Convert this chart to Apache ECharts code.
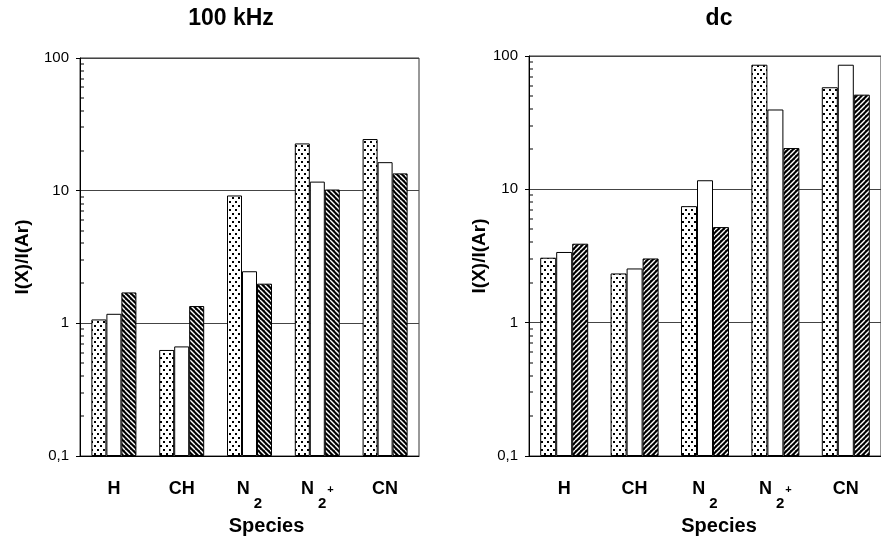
<!DOCTYPE html>
<html>
<head>
<meta charset="utf-8">
<script src="https://cdn.jsdelivr.net/npm/echarts@6/dist/echarts.min.js"></script>
<style>html,body{margin:0;padding:0;background:#fff}#c{width:881px;height:546px}</style>
</head>
<body>
<div id="c"></div>
<script>
// ---- data ----
const categories = ['H', 'CH', 'N2', 'N2+', 'CN'];
const khzDotted  = [1.07, 0.63, 9.2, 22.7, 24.5];
const khzOpen    = [1.18, 0.67, 2.47, 11.7, 16.4];
const khzHatched = [1.71, 1.35, 1.99, 10.2, 13.5];
const dcDotted   = [3.07, 2.34, 7.48, 86, 58.3];
const dcOpen     = [3.39, 2.55, 11.7, 39.7, 86];
const dcHatched  = [3.91, 3.03, 5.21, 20.4, 51.3];
const yMin = 0.1, yMax = 100;
const minorTickValues = [0.2,0.3,0.4,0.5,0.6,0.7,0.8,0.9,2,3,4,5,6,7,8,9,20,30,40,50,60,70,80,90];
const titles = ['100 kHz', 'dc'];

// ---- patterns ----
function dotPattern() {
  const c = document.createElement('canvas'); c.width = 6; c.height = 8;
  const g = c.getContext('2d');
  g.fillStyle = '#fff'; g.fillRect(0, 0, 6, 8);
  g.fillStyle = '#000';
  g.fillRect(1, 1, 2, 2); g.fillRect(4, 5, 2, 2);
  return c;
}
function hatchPattern(back) {
  const P = 5;
  const c = document.createElement('canvas'); c.width = P; c.height = P;
  const g = c.getContext('2d');
  g.fillStyle = '#000'; g.fillRect(0, 0, P, P);
  g.strokeStyle = '#fff'; g.lineWidth = 1.4;
  for (const o of [-P, 0, P]) {
    g.beginPath();
    if (back) { g.moveTo(o, 0); g.lineTo(o + P, P); }
    else { g.moveTo(o, P); g.lineTo(o + P, 0); }
    g.stroke();
  }
  return c;
}
const dotFill = { image: dotPattern(), repeat: 'repeat' };
const hatchBack = { image: hatchPattern(true), repeat: 'repeat' };
const hatchFwd = { image: hatchPattern(false), repeat: 'repeat' };

const FONT = '"Liberation Sans", Arial, sans-serif';

function catLabel(v) {
  if (v === 'N2') return '{a|N}{s|2}';
  if (v === 'N2+') return '{a|N}{s|2}{p|+}';
  return '{a|' + v + '}';
}
const rich = {
  a: { fontSize: 18, fontWeight: 'bold', fontFamily: FONT, color: '#000', verticalAlign: 'top', lineHeight: 20 },
  s: { fontSize: 15, fontWeight: 'bold', fontFamily: FONT, color: '#000', verticalAlign: 'top', lineHeight: 15, padding: [16, 0, 0, 4] },
  p: { fontSize: 11, fontWeight: 'bold', fontFamily: FONT, color: '#000', verticalAlign: 'top', lineHeight: 11, padding: [4, 0, 0, 1] }
};

const grids = [
  { left: 80, top: 58, width: 339, height: 398, show: true, borderColor: '#333', borderWidth: 1 },
  { left: 529, top: 56, width: 360, height: 400, show: true, borderColor: '#333', borderWidth: 1 }
];

function xAxis(i, pad) {
  return {
    type: 'category', gridIndex: i, data: categories,
    axisLine: { lineStyle: { color: '#000', width: 1 } },
    axisTick: { length: 5, lineStyle: { color: '#000' } },
    axisLabel: { margin: 24, interval: 0, formatter: catLabel, rich: rich },
    name: 'Species', nameLocation: 'middle', nameGap: 60,
    nameTextStyle: { fontSize: 20, fontWeight: 'bold', fontFamily: FONT, color: '#000', padding: [0, 0, 0, pad] }
  };
}
function yAxis(i, gap) {
  return {
    type: 'log', logBase: 10, gridIndex: i, min: yMin, max: yMax, startValue: yMin,
    axisLine: { show: true, lineStyle: { color: '#000', width: 1 } },
    axisTick: { show: true, length: 4, lineStyle: { color: '#000' } },
    axisLabel: {
      margin: 11, fontSize: 15, fontFamily: FONT, color: '#000',
      formatter: v => (Math.abs(v - 0.1) < 1e-9 ? '0,1' : String(Math.round(v)))
    },
    splitLine: { show: true, lineStyle: { color: '#444', width: 1 } },
    name: 'I(X)/I(Ar)', nameLocation: 'middle', nameGap: gap,
    nameTextStyle: { fontSize: 19, fontWeight: 'bold', fontFamily: FONT, color: '#000' }
  };
}
function bar(i, data, fill, bw) {
  return {
    type: 'bar', xAxisIndex: i, yAxisIndex: i, data: data, barWidth: bw, barGap: '0%',
    itemStyle: { color: fill, borderColor: '#000', borderWidth: 1 }, silent: true, animation: false
  };
}
function minorTicks(i) {
  return {
    type: 'custom', xAxisIndex: i, yAxisIndex: i, silent: true, animation: false, clip: false, z: 10,
    data: minorTickValues.map(v => [0, v]),
    encode: { x: 0, y: 1 },
    renderItem: function (params, api) {
      const p = api.coord([0, api.value(1)]);
      return { type: 'rect', shape: { x: params.coordSys.x, y: Math.round(p[1]) - 0.5, width: 4, height: 1 }, style: { fill: '#000' } };
    }
  };
}

const chart = echarts.init(document.getElementById('c'), null, { renderer: 'canvas' });
chart.setOption({
  animation: false,
  backgroundColor: '#fff',
  grid: grids,
  xAxis: [xAxis(0, 34), xAxis(1, 28)],
  yAxis: [yAxis(0, 48), yAxis(1, 34)],
  graphic: { elements: [
    { type: 'text', x: 231, y: 19, style: { text: titles[0], textAlign: 'center', textVerticalAlign: 'middle', font: 'bold 23px ' + FONT, fill: '#000' } },
    { type: 'text', x: 719, y: 19, style: { text: titles[1], textAlign: 'center', textVerticalAlign: 'middle', font: 'bold 23px ' + FONT, fill: '#000' } }
  ] },
  series: [
    bar(0, khzDotted, dotFill, 15), bar(0, khzOpen, '#fff', 15), bar(0, khzHatched, hatchBack, 15),
    bar(1, dcDotted, dotFill, 16), bar(1, dcOpen, '#fff', 16), bar(1, dcHatched, hatchFwd, 16),
    minorTicks(0), minorTicks(1)
  ]
});
</script>
</body>
</html>
